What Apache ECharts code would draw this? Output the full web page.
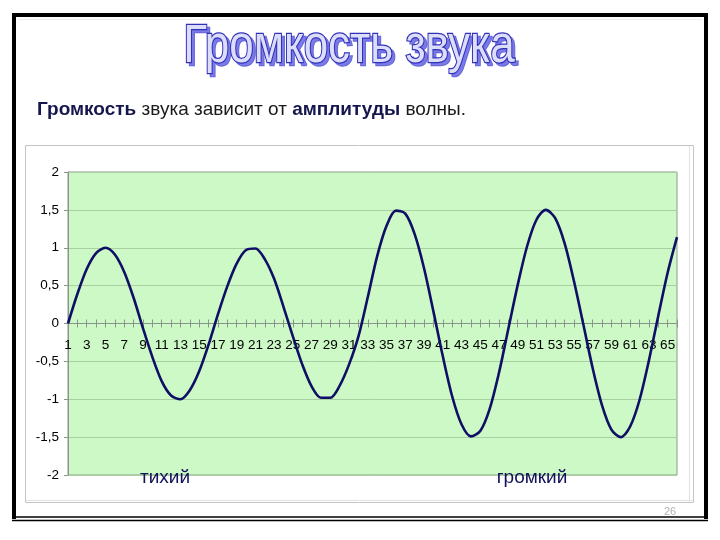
<!DOCTYPE html>
<html>
<head>
<meta charset="utf-8">
<script src="https://cdn.jsdelivr.net/npm/echarts@6/dist/echarts.min.js"></script>
<style>html,body{margin:0;padding:0;background:#fff}#c{width:720px;height:540px}</style>
</head>
<body>
<div id="c"></div>
<script>
// Data
var categories = [];
for (var i = 1; i <= 66; i++) categories.push(String(i));
var values = [
  0, 0.39, 0.72, 0.93, 1.00, 0.91, 0.68, 0.34, -0.06, -0.44,
  -0.76, -0.95, -1.00, -0.88, -0.63, -0.28, 0.12, 0.49, 0.79, 0.97,
  0.99, 0.85, 0.59, 0.22, -0.17, -0.54, -0.83, -0.98, -0.98, -0.82,
  -0.54, -0.17, 0.35, 0.89, 1.29, 1.49, 1.45, 1.18, 0.73, 0.16,
  -0.43, -0.96, -1.33, -1.49, -1.42, -1.13, -0.65, -0.07, 0.51, 1.02,
  1.37, 1.50, 1.39, 1.06, 0.56, -0.01, -0.59, -1.08, -1.40, -1.50,
  -1.36, -1.01, -0.49, 0.10, 0.67, 1.14
];
var yTicks = ['-2', '-1,5', '-1', '-0,5', '0', '0,5', '1', '1,5', '2'];
var titleText = 'Громкость звука';
var subtitleRich = '{b|Громкость} звука зависит от {b|амплитуды} волны.';
var noteLabels = ['тихий', 'громкий'];
var pageNumber = '26';

var chart = echarts.init(document.getElementById('c'), null, {renderer: 'canvas'});
var FONT = 'Liberation Sans, Arial, sans-serif';
var AXC = '#8a948a';
var GRID = {left: 68, top: 172, right: 43, bottom: 65};
var plotH = 540 - GRID.top - GRID.bottom;
var zeroOffset = -plotH / 2; // y range is symmetric (-2..2), so zero sits mid-plot

chart.setOption({
  backgroundColor: '#ffffff',
  animation: false,
  grid: {
    left: GRID.left, top: GRID.top, right: GRID.right, bottom: GRID.bottom,
    show: true, backgroundColor: '#ccf9c5', borderColor: '#8e9a8c', borderWidth: 1
  },
  xAxis: [{
    type: 'category',
    data: categories,
    boundaryGap: false,
    position: 'bottom',
    offset: zeroOffset,
    axisLine: {onZero: false, lineStyle: {color: AXC, width: 1}},
    axisTick: {show: true, interval: 0, length: 4, lineStyle: {color: AXC}},
    axisLabel: {interval: 1, margin: 15, color: '#000', fontFamily: FONT, fontSize: 13.5},
    splitLine: {show: false}
  }, {
    type: 'category',
    data: categories,
    boundaryGap: false,
    position: 'top',
    offset: zeroOffset,
    axisLine: {onZero: false, show: false},
    axisTick: {show: true, interval: 0, length: 4, lineStyle: {color: AXC}},
    axisLabel: {show: false},
    splitLine: {show: false}
  }],
  yAxis: {
    type: 'value',
    min: -2, max: 2, interval: 0.5,
    axisLine: {show: true, lineStyle: {color: AXC}},
    axisTick: {show: true, length: 4, lineStyle: {color: AXC}},
    axisLabel: {
      color: '#000', fontFamily: FONT, fontSize: 13.5, margin: 9,
      formatter: function (v) {
        var idx = Math.round((v + 2) / 0.5);
        return yTicks[idx];
      }
    },
    splitLine: {show: true, lineStyle: {color: '#a9cfa3', width: 1}}
  },
  series: [{
    type: 'line',
    data: values,
    smooth: 0.3,
    symbol: 'none',
    lineStyle: {color: '#0f0f66', width: 2.6},
    z: 5
  }],
  graphic: [
    // slide frame
    {type: 'polyline', shape: {points: [[14, 519], [14, 15], [706, 15], [706, 519]]},
      style: {stroke: '#000', lineWidth: 4, fill: null}, z: 10},
    {type: 'line', shape: {x1: 12, y1: 517, x2: 708, y2: 517}, style: {stroke: '#000', lineWidth: 1.5}, z: 10},
    {type: 'line', shape: {x1: 12, y1: 520.5, x2: 708, y2: 520.5}, style: {stroke: '#000', lineWidth: 1.5}, z: 10},
    {type: 'line', shape: {x1: 18, y1: 19.5, x2: 702, y2: 19.5}, style: {stroke: '#eeeeee', lineWidth: 1}, z: 1},
    // chart box
    {type: 'rect', shape: {x: 25.5, y: 145.5, width: 668, height: 357},
      style: {fill: null, stroke: '#c4c4c4', lineWidth: 1}, z: 1},
    {type: 'line', shape: {x1: 689.5, y1: 146, x2: 689.5, y2: 502}, style: {stroke: '#e2e2e2', lineWidth: 1}, z: 1},
    {type: 'line', shape: {x1: 26, y1: 500.5, x2: 693, y2: 500.5}, style: {stroke: '#e2e2e2', lineWidth: 1}, z: 1},
    // title shadow
    {type: 'text', x: 352, y: 50, scaleY: 1.22, originX: 0, originY: 0, z: 20,
      style: {text: titleText, font: '44px ' + FONT, textAlign: 'center', textVerticalAlign: 'middle',
        fill: '#7a7ae6', stroke: '#6b6bdc', lineWidth: 2}},
    // title
    {type: 'text', x: 349, y: 47, scaleY: 1.22, originX: 0, originY: 0, z: 21,
      style: {text: titleText, font: '44px ' + FONT, textAlign: 'center', textVerticalAlign: 'middle',
        fill: '#dcdcfb', stroke: '#3030b8', lineWidth: 2}},
    // subtitle
    {type: 'text', x: 37, y: 110, z: 20,
      style: {text: subtitleRich, font: '19px ' + FONT, fill: '#1a1a1a', textVerticalAlign: 'middle',
        rich: {b: {fontWeight: 'bold', fontSize: 19, fontFamily: FONT, fill: '#16164f', color: '#16164f'}}}},
    // notes
    {type: 'text', x: 165, y: 478, z: 20,
      style: {text: noteLabels[0], font: '19px ' + FONT, fill: '#13135a', textAlign: 'center', textVerticalAlign: 'middle'}},
    {type: 'text', x: 532, y: 478, z: 20,
      style: {text: noteLabels[1], font: '19px ' + FONT, fill: '#13135a', textAlign: 'center', textVerticalAlign: 'middle'}},
    // page number
    {type: 'text', x: 670, y: 512, z: 20,
      style: {text: pageNumber, font: '11px ' + FONT, fill: '#b0b0b0', textAlign: 'center', textVerticalAlign: 'middle'}}
  ]
});
</script>
</body>
</html>
